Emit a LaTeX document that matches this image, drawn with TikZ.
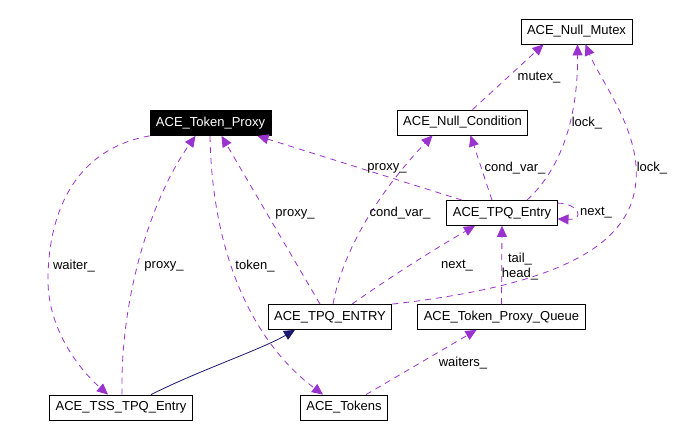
\documentclass[tikz,border=0pt]{standalone}
\usepackage{fontspec}
\setmainfont{Liberation Sans}
\usepackage{xcolor}
\usepackage{tikz}
\usetikzlibrary{arrows.meta}

\definecolor{usepurple}{HTML}{9A32CD}
\definecolor{basenavy}{HTML}{191970}

\begin{document}
\begin{tikzpicture}[
    x=1pt, y=-1pt,
    font=\fontsize{13}{15}\selectfont,
    cls/.style={rectangle, draw, fill=white, inner xsep=6pt, inner ysep=0pt, minimum height=25pt, line width=0.8pt},
    uses/.style={draw=usepurple, line width=0.8pt, dash pattern=on 6pt off 5pt, -{Triangle[length=11pt,width=10pt]}},
    inherit/.style={draw=basenavy, line width=0.8pt, -{Triangle[length=11pt,width=10pt]}},
    lbl/.style={inner sep=1pt}
]
\useasboundingbox (0,0) rectangle (688,438);

% Classes
\node[cls] (mutex) at (576.5,31.5) {ACE\_Null\_Mutex};
\node[cls] (cond) at (462.5,122.5) {ACE\_Null\_Condition};
\node[cls, fill=black, draw=black, text=white] (proxy) at (210.5,123) {ACE\_Token\_Proxy};
\node[cls] (tpqentry) at (502,213) {ACE\_TPQ\_Entry};
\node[cls] (tpqENTRY) at (330,317) {ACE\_TPQ\_ENTRY};
\node[cls] (queue) at (501.5,317) {ACE\_Token\_Proxy\_Queue};
\node[cls] (tss) at (121,407.5) {ACE\_TSS\_TPQ\_Entry};
\node[cls] (tokens) at (344,407.5) {ACE\_Tokens};

% Null_Mutex users
\draw[uses] ([xshift=10pt]cond.north) -- ([xshift=-33pt]mutex.south);
\draw[uses] ([xshift=25pt]tpqentry.north) .. controls (565,165) and (578,110) .. ([xshift=1pt]mutex.south);
\draw[uses] (tpqENTRY.north east) .. controls (560,285) and (632,245) .. (636,180)
    .. controls (640,130) and (600,80) .. ([xshift=9pt]mutex.south);

% Null_Condition users
\draw[uses] ([xshift=-10pt]tpqentry.north) -- ([xshift=8pt]cond.south);
\draw[uses] ([xshift=3pt]tpqENTRY.north) .. controls (345,240) and (390,180) .. ([xshift=-30pt]cond.south);

% Token_Proxy users
\draw[uses] ([xshift=-40pt]tpqentry.north) -- ([xshift=47pt]proxy.south);
\draw[uses] ([xshift=-10pt]tpqENTRY.north) -- ([xshift=11pt]proxy.south);
\draw[uses] ([xshift=1pt]tss.north) .. controls (120,300) and (150,200) .. ([xshift=-15pt]proxy.south);

% TPQ_Entry users
\draw[uses] ([yshift=-3pt]tpqentry.north east) .. controls (578,203) and (586,220) .. ([yshift=-6pt]tpqentry.east);
\draw[uses] ([xshift=22pt]tpqENTRY.north) .. controls (400,270) and (450,240) .. ([xshift=-27pt]tpqentry.south);
\draw[uses] (queue.north) -- (tpqentry.south);

% Token_Proxy members
\draw[uses] (proxy.south west) .. controls (70,150) and (48,220) .. (48,280)
    .. controls (48,330) and (80,370) .. ([xshift=-13pt]tss.north);
\draw[uses] ([xshift=-0.5pt]proxy.south) .. controls (212,250) and (250,340) .. ([xshift=-21pt]tokens.north);

% Tokens member
\draw[uses] ([xshift=22pt]tokens.north) -- ([xshift=-25pt]queue.south);

% Inheritance
\draw[inherit] ([xshift=30pt]tss.north) .. controls (200,370) and (260,350) .. ([xshift=-35pt]tpqENTRY.south);

% Labels
\node[lbl] (lmutex) at (539,78) {mutex\_};
\node[lbl] (llock) at (587,123) {lock\_};
\node[lbl] (llock2) at (652,168) {lock\_};
\node[lbl] (lproxyr) at (387,168) {proxy\_};
\node[lbl] (lcondu) at (515,168) {cond\_var\_};
\node[lbl] (lcondl) at (400,213) {cond\_var\_};
\node[lbl] (lnextself) at (596,213) {next\_};
\node[lbl] (lproxym) at (295,214) {proxy\_};
\node[lbl] (lnext) at (457,266) {next\_};
\node[lbl, align=center] (ltailhead) at (520,266.5) {tail\_\\head\_};
\node[lbl] (lwaiter) at (74,266) {waiter\_};
\node[lbl] (lproxyl) at (164,266) {proxy\_};
\node[lbl] (ltoken) at (255,266) {token\_};
\node[lbl] (lwaiters) at (463,363) {waiters\_};

\end{tikzpicture}
\end{document}
